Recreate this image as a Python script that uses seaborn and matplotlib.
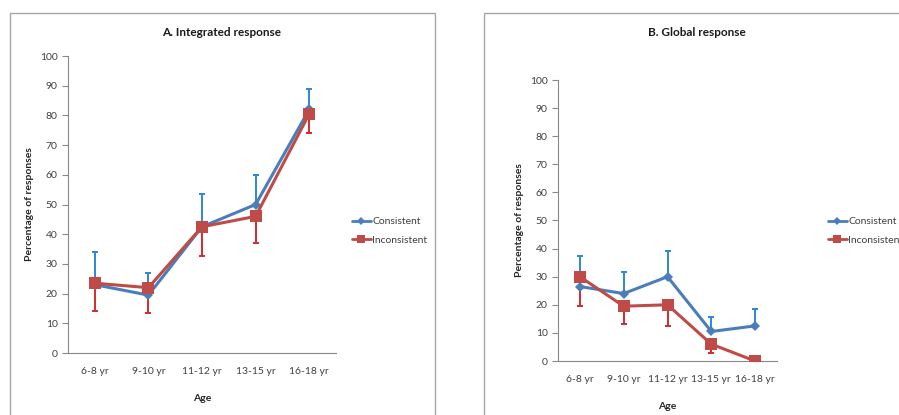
import matplotlib
matplotlib.use("Agg")
import matplotlib.pyplot as plt
import seaborn as sns
import pandas as pd
import numpy as np
from matplotlib.patches import Rectangle
from matplotlib.lines import Line2D

ages = ["6-8 yr", "9-10 yr", "11-12 yr", "13-15 yr", "16-18 yr"]
a_consistent = [23, 19.5, 42.5, 50, 82]
a_consistent_err = [11, 7.5, 11, 10, 7]
a_inconsistent = [23.5, 22, 42.5, 46, 80.5]
a_inconsistent_err = [9.5, 8.5, 10, 9, 6.5]
b_consistent = [26.5, 24, 30, 10.5, 12.5]
b_consistent_err = [11, 7.5, 9, 5, 6]
b_inconsistent = [30, 19.5, 20, 6, 0]
b_inconsistent_err = [10.5, 6.5, 7.5, 3, 0]
yticks = list(range(0, 101, 10))

sns.set_theme(style="white")
plt.rcParams["font.family"] = ["Lato", "DejaVu Sans"]

W, H = 899, 415
fig = plt.figure(figsize=(W / 100, H / 100), dpi=100)

# panel borders
for (x0, x1) in [(10, 435), (484, 910)]:
    fig.patches.append(Rectangle((x0 / W, -0.05), (x1 - x0) / W, 1.05 - 12.7 / H,
                                 transform=fig.transFigure, fill=False,
                                 edgecolor="#a6a6a6", linewidth=1.0))

BLUE = "#4a7ebb"
RED = "#be4b48"
BLUE_ERR = "#2f86d6"
RED_ERR = "#d42a2a"


def panel(rect, cons, cons_err, inc, inc_err, title, title_x, legend_x, ylab_x, age_y):
    ax = fig.add_axes(rect)
    df = pd.DataFrame({
        "Age": ages * 2,
        "val": list(cons) + list(inc),
        "Series": ["Consistent"] * 5 + ["Inconsistent"] * 5,
    })
    xs = np.arange(len(ages))
    # one-sided error bars
    ax.errorbar(xs, cons, yerr=[np.zeros(5), cons_err], fmt="none",
                ecolor=BLUE_ERR, elinewidth=1.4, capsize=2.5, capthick=1.4, zorder=2)
    ax.errorbar(xs, inc, yerr=[inc_err, np.zeros(5)], fmt="none",
                ecolor=RED_ERR, elinewidth=1.4, capsize=2.5, capthick=1.4, zorder=2)
    sns.lineplot(data=df, x="Age", y="val", hue="Series", style="Series",
                 palette={"Consistent": BLUE, "Inconsistent": RED},
                 markers={"Consistent": "D", "Inconsistent": "s"},
                 dashes=False, linewidth=2.2, markersize=6,
                 markeredgewidth=0, ax=ax, legend=False, zorder=3,
                 sort=False)
    for line, ms in zip(ax.lines[-2:], [5, 8]):
        line.set_markersize(ms)
    ax.set_xlim(-0.5, 4.5)
    ax.set_ylim(0, 100)
    ax.set_yticks(yticks)
    ax.set_xticks(xs)
    ax.set_xticklabels(ages, fontsize=7.5, color="#404040")
    ax.set_xticks(np.arange(-0.5, 5, 1), minor=True)
    ax.tick_params(axis="x", which="major", length=0, pad=10)
    ax.tick_params(axis="x", which="minor", length=4, color="#888888", width=0.8, direction="out")
    ax.tick_params(axis="y", length=4, color="#888888", width=0.8, direction="out",
                   labelsize=7.5, labelcolor="#404040", left=True)
    for s in ["top", "right"]:
        ax.spines[s].set_visible(False)
    for s in ["left", "bottom"]:
        ax.spines[s].set_color("#888888")
        ax.spines[s].set_linewidth(0.8)
    ax.set_xlabel("")
    ax.set_ylabel("")
    fig.text(ylab_x / W, (rect[1] + rect[3] / 2), "Percentage of responses", rotation=90,
             ha="center", va="center", fontsize=7.5, fontweight="bold", color="#262626")
    x_center = rect[0] + rect[2] / 2
    fig.text(x_center, 1 - age_y / H, "Age", ha="center", va="center",
             fontsize=7.5, fontweight="bold", color="#262626")
    fig.text(title_x / W, 1 - 32 / H, title,
             ha="center", va="center", fontsize=8.5, fontweight="bold", color="#1a1a1a")
    handles = [Line2D([], [], color=BLUE, marker="D", markersize=4, linewidth=2, markeredgewidth=0),
               Line2D([], [], color=RED, marker="s", markersize=6, linewidth=2, markeredgewidth=0)]
    fig.legend(handles, ["Consistent", "Inconsistent"], loc="center left",
               bbox_to_anchor=(legend_x / W, 1 - 231 / H), frameon=False,
               fontsize=7.5, handlelength=1.8, handletextpad=0.15, labelspacing=0.9,
               borderpad=0, borderaxespad=0, labelcolor="#404040")
    return ax


panel([68 / W, 1 - 353 / H, (336 - 68) / W, (353 - 56) / H],
      a_consistent, a_consistent_err, a_inconsistent, a_inconsistent_err,
      "A. Integrated response", 222, 352, 30, 398)
panel([558 / W, 1 - 361 / H, (777 - 558) / W, (361 - 80) / H],
      b_consistent, b_consistent_err, b_inconsistent, b_inconsistent_err,
      "B. Global response", 697, 828, 520, 406)

fig.savefig("out.png", dpi=100)
